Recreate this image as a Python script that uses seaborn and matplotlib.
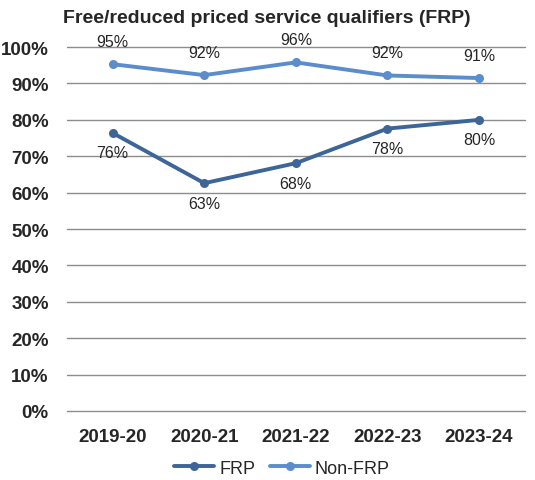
import pandas as pd
import numpy as np
import matplotlib
matplotlib.use("Agg")
import matplotlib.pyplot as plt
import seaborn as sns
from matplotlib.ticker import PercentFormatter

# === Data ===
years = ["2019-20", "2020-21", "2021-22", "2022-23", "2023-24"]
frp = [76.4, 62.6, 68.1, 77.6, 80.0]
non_frp = [95.3, 92.3, 95.8, 92.2, 91.5]
frp_labels = ["76%", "63%", "68%", "78%", "80%"]
non_frp_labels = ["95%", "92%", "96%", "92%", "91%"]

df = pd.DataFrame({
    "Year": years * 2,
    "Rate": frp + non_frp,
    "Group": ["FRP"] * len(years) + ["Non-FRP"] * len(years),
})

sns.set_style("white")
plt.rcParams['font.family'] = ['Liberation Sans', 'DejaVu Sans']

colors = {"FRP": "#3E6597", "Non-FRP": "#5B8DCC"}

fig = plt.figure(figsize=(5.35, 4.81), dpi=100)
ax = fig.add_axes([0.125, 0.1435, 0.856, 0.7565])

sns.lineplot(data=df, x="Year", y="Rate", hue="Group", palette=colors,
             marker="o", markersize=6.5, markeredgewidth=0, linewidth=2.8,
             sort=False, ax=ax)

# === Labels ===
for i, (v, t) in enumerate(zip(non_frp, non_frp_labels)):
    ax.annotate(t, (i, v), xytext=(0, 11), textcoords="offset points",
                ha="center", va="bottom", fontsize=11.5)
for i, (v, t) in enumerate(zip(frp, frp_labels)):
    ax.annotate(t, (i, v), xytext=(0, -9), textcoords="offset points",
                ha="center", va="top", fontsize=11.5)

ax.set_ylim(0, 100)
ax.set_xlim(-0.5, len(years) - 0.5)
ax.set_yticks(np.arange(0, 101, 10))
ax.yaxis.set_major_formatter(PercentFormatter(decimals=0))
ax.grid(axis="y", color="#8C8C8C", linewidth=1)
for gl in ax.get_ygridlines():
    gl.set_clip_on(False)
ax.set_axisbelow(True)
for s in ax.spines.values():
    s.set_visible(False)
ax.tick_params(axis="both", length=0, labelsize=13.5)
ax.tick_params(axis="y", pad=13)
ax.tick_params(axis="x", pad=12)
for lbl in ax.get_xticklabels() + ax.get_yticklabels():
    lbl.set_fontweight("bold")
ax.set_xlabel("")
ax.set_ylabel("")

fig.text(0.498, 0.962, "Free/reduced priced service qualifiers (FRP)",
         ha="center", va="center", fontsize=14, fontweight="bold")

ax.legend(loc="upper center", bbox_to_anchor=(0.47, -0.104), ncol=2,
          frameon=False, fontsize=13, handlelength=2.2, columnspacing=0.8,
          handletextpad=0.3, borderaxespad=0.2)

fig.savefig("out.png", dpi=100)
